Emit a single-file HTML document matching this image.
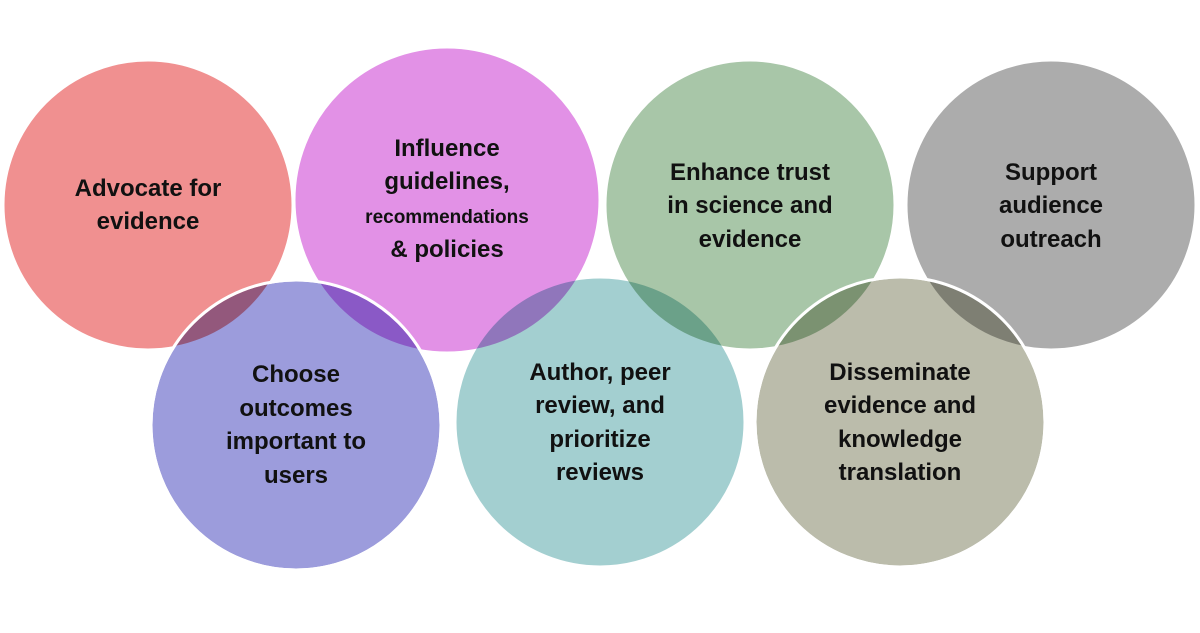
<!DOCTYPE html>
<html><head><style>
html,body{margin:0;padding:0;background:#fff;width:1200px;height:633px;overflow:hidden}
svg text{font-family:"Liberation Sans",sans-serif;font-weight:bold;font-size:24px;fill:#111;text-anchor:middle}
circle{stroke:#fff;stroke-width:3}
.m{mix-blend-mode:multiply}
</style></head><body>
<svg width="1200" height="633" viewBox="0 0 1200 633">
<circle cx="148" cy="205" r="145" fill="#f09090"/>
<circle cx="447" cy="200" r="153" fill="#e291e6"/>
<circle cx="750" cy="205" r="145" fill="#a8c6a8"/>
<circle cx="1051" cy="205" r="145" fill="#acacac"/>
<g class="m"><circle cx="296" cy="425" r="145" fill="#9c9cdc"/></g>
<g class="m"><circle cx="600" cy="422" r="145" fill="#a3cfd0"/></g>
<g class="m"><circle cx="900" cy="422" r="145" fill="#bbbcab"/></g>
<circle cx="296" cy="425" r="145" fill="none"/>
<circle cx="900" cy="422" r="145" fill="none"/>
<text x="148" y="196">Advocate for</text>
<text x="148" y="229">evidence</text>
<text x="447" y="156">Influence</text>
<text x="447" y="189">guidelines,</text>
<text x="447" y="223" style="font-size:19px">recommendations</text>
<text x="447" y="257">&amp; policies</text>
<text x="750" y="180">Enhance trust</text>
<text x="750" y="213">in science and</text>
<text x="750" y="247">evidence</text>
<text x="1051" y="180">Support</text>
<text x="1051" y="213">audience</text>
<text x="1051" y="247">outreach</text>
<text x="296" y="382">Choose</text>
<text x="296" y="416">outcomes</text>
<text x="296" y="449">important to</text>
<text x="296" y="483">users</text>
<text x="600" y="380">Author, peer</text>
<text x="600" y="413">review, and</text>
<text x="600" y="447">prioritize</text>
<text x="600" y="480">reviews</text>
<text x="900" y="380">Disseminate</text>
<text x="900" y="413">evidence and</text>
<text x="900" y="447">knowledge</text>
<text x="900" y="480">translation</text>
</svg>
</body></html>
